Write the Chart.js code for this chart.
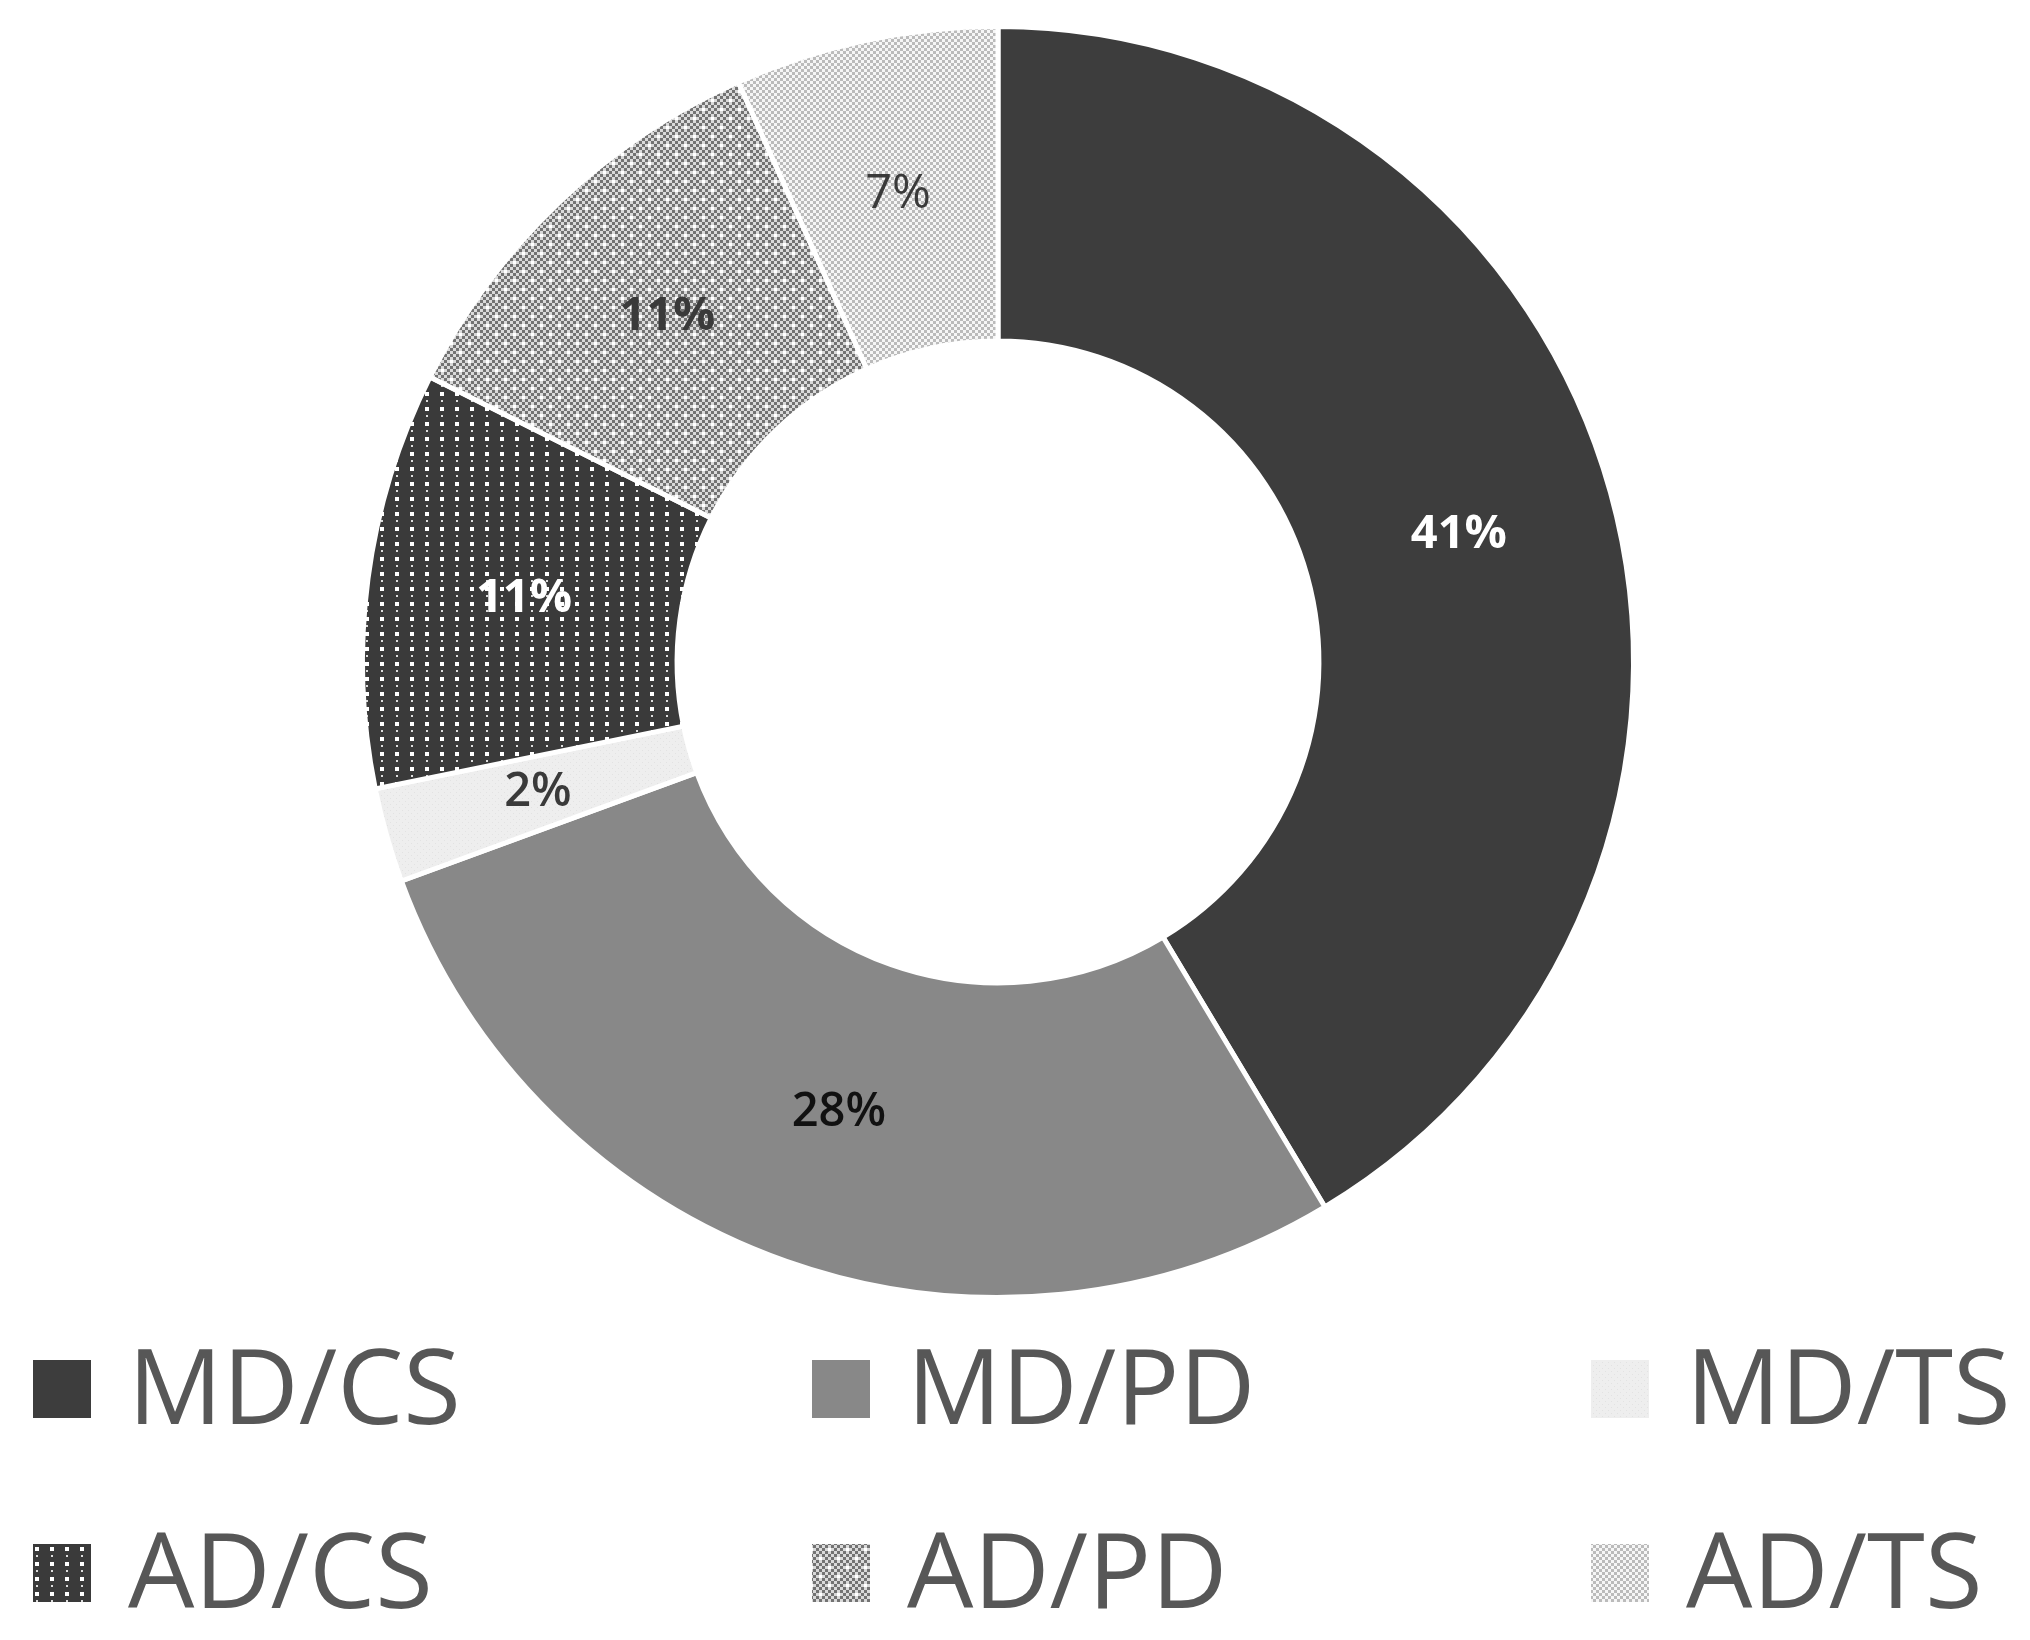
<!DOCTYPE html>
<html>
<head>
<meta charset="utf-8">
<title>Doughnut</title>
<script src="https://cdn.jsdelivr.net/npm/chart.js@4.4.0/dist/chart.umd.min.js"></script>
<style>
    html, body { margin: 0; padding: 0; background: #fff; }
    #wrap { width: 2030px; height: 1640px; position: relative; }
</style>
</head>
<body>
<div id="wrap"><canvas id="donut"></canvas></div>
<script>
    "use strict";

    // Data
    var categories = ["MD/CS", "MD/PD", "MD/TS", "AD/CS", "AD/PD", "AD/TS"];
    var shares = [41.4, 28.0, 2.4, 10.6, 10.9, 6.7];

    // Label styling per slice
    var labelColors = ["#ffffff", "#111111", "#3a3a3a", "#ffffff", "#3a3a3a", "#3a3a3a"];
    var labelWeights = ["bold", "600", "600", "bold", "bold", "500"];


    // Pattern fills
    var makePattern = function (w, h, draw) {
        var c = document.createElement('canvas');
        c.width = w;
        c.height = h;
        var g = c.getContext('2d');
        draw(g);
        return g.createPattern(c, 'repeat');
    };

    var checker = function (g, size, cell, dark, light) {
        for (var y = 0; y < size; y += cell) {
            for (var x = 0; x < size; x += cell) {
                g.fillStyle = ((x + y) / cell) % 2 === 0 ? dark : light;
                g.fillRect(x, y, cell, cell);
            }
        }
    };

    var fills = [
        "#3d3d3d",
        "#888888",
        makePattern(6, 6, function (g) {
            g.fillStyle = "#eeeeee";
            g.fillRect(0, 0, 6, 6);
            g.fillStyle = "#e2e2e2";
            g.fillRect(0, 0, 1, 1);
            g.fillRect(3, 3, 1, 1);
        }),
        makePattern(15, 15, function (g) {
            g.fillStyle = "#3a3a3a";
            g.fillRect(0, 0, 15, 15);
            g.fillStyle = "#ffffff";
            g.fillRect(5, 2, 4, 4);
            g.fillStyle = "#dddddd";
            g.fillRect(6, 10, 2, 2);
        }),
        makePattern(18, 18, function (g) {
            checker(g, 18, 3, "#737373", "#dadada");
            g.fillStyle = "#ffffff";
            g.fillRect(0, 0, 3, 3);
            g.fillRect(9, 9, 3, 3);
        }),
        makePattern(6, 6, function (g) {
            checker(g, 6, 3, "#bbbbbb", "#f6f6f6");
        })
    ];


    // Percent labels inside slices
    var sliceLabels = {
        id: 'sliceLabels',
        afterDatasetsDraw: function (chart) {
            var ctx = chart.ctx;
            var meta = chart.getDatasetMeta(0);
            var total = shares.reduce(function (a, b) { return a + b; }, 0);
            meta.data.forEach(function (arc, i) {
                var p = arc.tooltipPosition();
                ctx.save();
                ctx.font = labelWeights[i] + ' 47px "Open Sans"';
                ctx.fillStyle = labelColors[i];
                ctx.textAlign = 'center';
                ctx.textBaseline = 'middle';
                ctx.fillText(Math.round(shares[i] / total * 100) + '%', p.x, p.y);
                ctx.restore();
            });
        }
    };


    // Legend laid out as a 3-column grid
    var gridLegend = {
        id: 'gridLegend',
        afterDraw: function (chart) {
            var ctx = chart.ctx;
            var bg = chart.data.datasets[0].backgroundColor;
            chart.data.labels.forEach(function (name, i) {
                var col = i % 3, row = Math.floor(i / 3);
                var x = 33 + col * 779, y = 1360 + row * 184;
                ctx.save();
                ctx.fillStyle = bg[i];
                ctx.fillRect(x, y, 58, 58);
                ctx.font = '105px "Open Sans"';
                ctx.fillStyle = '#575757';
                ctx.textAlign = 'left';
                ctx.textBaseline = 'alphabetic';
                ctx.fillText(name, x + 95, y + 64);
                ctx.restore();
            });
        }
    };


    // Doughnut Chart
    var ctx1 = document.getElementById('donut').getContext('2d');
    var myChart1 = new Chart(ctx1, {
        type: 'doughnut',
        data: {
            labels: categories,
            datasets: [{
                data: shares,
                backgroundColor: fills,
                borderColor: '#ffffff',
                borderWidth: 5,
                hoverOffset: 0
            }]
        },
        options: {
            responsive: true,
            maintainAspectRatio: false,
            animation: false,
            cutout: '50.5%',
            layout: {
                padding: { top: 24, bottom: 340, left: 0, right: 34 }
            },
            plugins: {
                legend: { display: false },
                tooltip: { enabled: false }
            }
        },
        plugins: [sliceLabels, gridLegend]
    });
</script>
</body>
</html>
